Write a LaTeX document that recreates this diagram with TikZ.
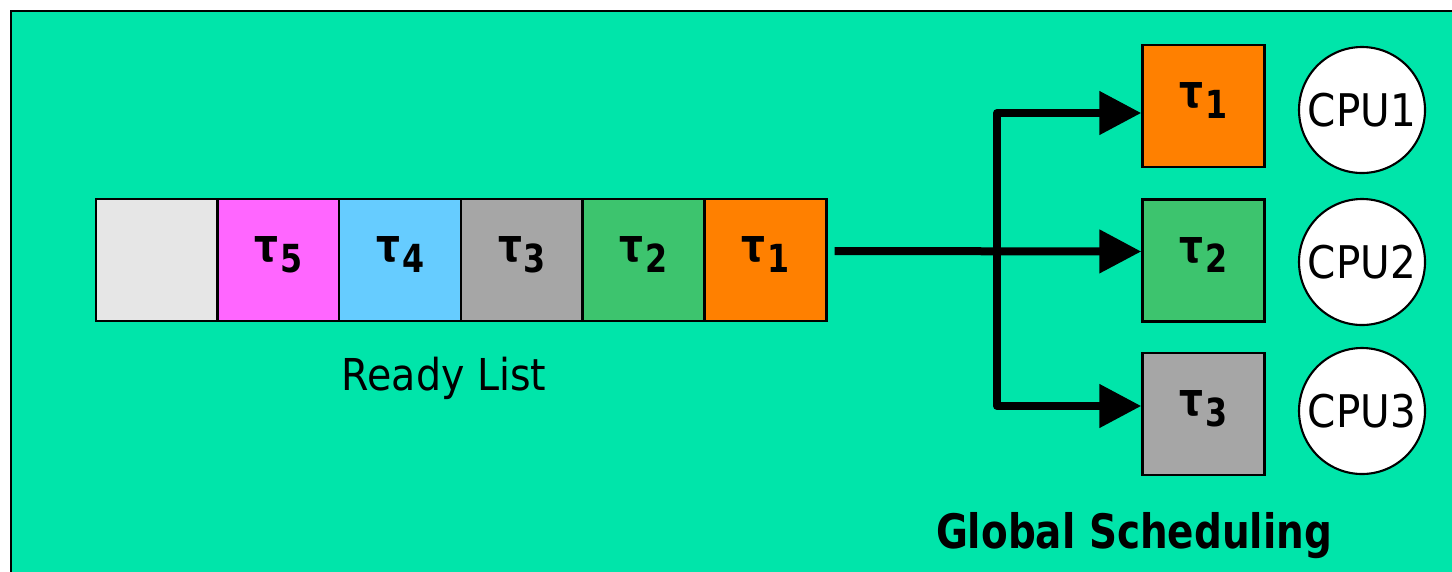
\documentclass[tikz,border=0pt]{standalone}
\usepackage{fontspec}
\setmainfont{DejaVu Sans}[FakeStretch=0.9]
\newfontfamily\boldfont{DejaVu Sans Bold}[FakeStretch=0.82]
\usetikzlibrary{arrows.meta}

\definecolor{panel}{RGB}{0,229,170}
\definecolor{idle}{RGB}{230,230,230}
\definecolor{tfive}{RGB}{255,102,255}
\definecolor{tfour}{RGB}{102,204,255}
\definecolor{tthree}{RGB}{166,166,166}
\definecolor{ttwo}{RGB}{61,196,110}
\definecolor{tone}{RGB}{255,128,0}

% task label: tau with a bold, lowered index
\newcommand{\tsk}[1]{{\boldfont\fontsize{13}{13}\selectfont τ\kern0.5pt\raisebox{-3pt}{\fontsize{11}{11}\selectfont #1}}}

\begin{document}
\begin{tikzpicture}[
		task/.style={draw=black,line width=0.7pt,minimum size=1.22cm,inner sep=0pt,text height=4pt,text depth=3pt},
		cpu/.style={circle,draw=black,line width=0.6pt,fill=white,minimum size=1.26cm,inner sep=0pt,font=\fontsize{12.8}{12.8}\selectfont},
		flow/.style={line width=0.08cm,line join=round,>={Triangle[length=0.42cm,width=0.42cm]}}]
		\useasboundingbox (0,0) rectangle (14.52,-5.71);
		\draw[fill=panel,line width=0.7pt] (0.11,-0.11) rectangle (15,-6);

		% ready list, oldest task on the right
		\foreach \i/\c/\t [count=\k] in {6/idle/{},5/tfive/\tsk{5},4/tfour/\tsk{4},3/tthree/\tsk{3},2/ttwo/\tsk{2},1/tone/\tsk{1}}
			\node[task,fill=\c] (r\i) at ({1.568+(\k-1)*1.217},-2.6) {\t};
		\node[font=\fontsize{12.5}{12.5}\selectfont] (ready) at (4.44,-3.78) {Ready List};

		% tasks dispatched to the processors
		\node[task,fill=tone] (q1) at (12.035,-1.06) {\tsk{1}};
		\node[task,fill=ttwo] (q2) at (12.035,-2.605) {\tsk{2}};
		\node[task,fill=tthree] (q3) at (12.035,-4.14) {\tsk{3}};
		\node[cpu] (c1) at (13.62,-1.1) {CPU1};
		\node[cpu] (c2) at (13.62,-2.62) {CPU2};
		\node[cpu] (c3) at (13.62,-4.11) {CPU3};
		\node[anchor=base,font=\boldfont\fontsize{13.5}{13.5}\selectfont] (title) at (11.34,-5.48) {Global Scheduling};

		\coordinate (fork) at (9.97,-2.51);
		\coordinate (in1) at ([yshift=-0.07cm]q1.west);
		\coordinate (in3) at ([yshift=0.08cm]q3.west);
		\draw[flow,->] ([xshift=0.07cm,yshift=0.09cm]r1.east) -- ([yshift=0.09cm]q2.west);
		\draw[flow,<->] (in1) -| (fork |- in3) -- (in3);
	\end{tikzpicture}
\end{document}
